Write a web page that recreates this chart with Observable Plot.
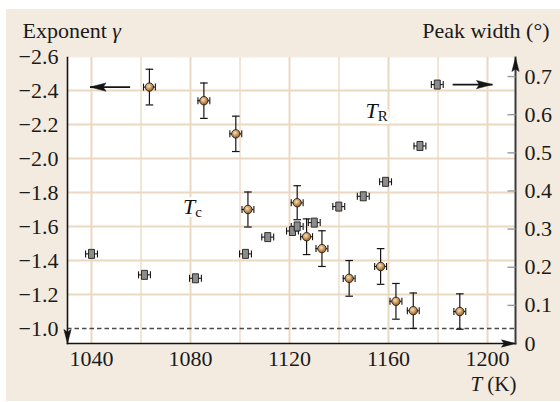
<!DOCTYPE html>
<html>
<head>
<meta charset="utf-8">
<script src="https://cdn.jsdelivr.net/npm/d3@7"></script>
<script src="https://cdn.jsdelivr.net/npm/@observablehq/plot@0.6"></script>
<style>
  html, body { margin: 0; padding: 0; background: #fff; }
  #wrap { position: relative; width: 560px; height: 402px; }
  #panel { position: absolute; left: 6px; top: 9px; right: 0; bottom: 1px; background: #f3ebe0; }
  #chart { position: absolute; left: 0; top: 0; }
</style>
</head>
<body>
<div id="wrap"><div id="panel"></div><div id="chart"></div></div>
<script>
// Critical exponent γ versus temperature (left axis)
const gammaTemp      = [1063.4, 1085.4, 1098.3, 1103.2, 1123.1, 1126.9, 1133.1, 1144.1, 1156.8, 1163.0, 1170.0, 1188.8];
const gammaValue     = [-2.42, -2.34, -2.145, -1.70, -1.74, -1.54, -1.47, -1.295, -1.365, -1.16, -1.105, -1.10];
const gammaError     = [0.105, 0.104, 0.104, 0.103, 0.10, 0.105, 0.105, 0.105, 0.105, 0.105, 0.104, 0.104];
const gammaTempError = [2.4, 2.4, 2.4, 2.4, 2.4, 2.4, 2.4, 2.4, 2.4, 2.4, 2.4, 2.4];

// Diffraction peak width versus temperature (right axis, degrees)
const widthTemp      = [1040.0, 1061.4, 1082.0, 1102.2, 1111.2, 1121.2, 1123.1, 1130.0, 1139.9, 1149.8, 1158.8, 1172.7, 1179.7];
const widthValue     = [0.235, 0.180, 0.171, 0.235, 0.279, 0.295, 0.307, 0.317, 0.359, 0.386, 0.424, 0.518, 0.679];
const widthTempError = [2.4, 2.4, 2.4, 2.4, 2.4, 2.4, 2.4, 2.4, 2.4, 2.4, 2.4, 2.4, 2.4];

// Axis ticks and gridlines
const xTicks     = [1040, 1080, 1120, 1160, 1200];
const xGrid      = [1040, 1060, 1080, 1100, 1120, 1140, 1160, 1180, 1200];
const gammaTicks = [-2.6, -2.4, -2.2, -2.0, -1.8, -1.6, -1.4, -1.2, -1.0];
const gammaGrid  = [-2.4, -2.2, -2.0, -1.8, -1.6, -1.4, -1.2];
const widthTicks = [0, 0.1, 0.2, 0.3, 0.4, 0.5, 0.6, 0.7];
const meanField  = -1.0;

// Arrows telling which axis each series belongs to
const arrowFrom = [1055.6, 1185.9];
const arrowTo   = [1039.4, 1202.0];

// Transition temperature labels
const labelText = ["Tc", "TR"];
const labelTemp = [1077.0, 1150.7];
const labelGamma = [-1.676, -2.239];

const xDomain = [1030.3, 1211.3];
const yDomain = [-0.912, -2.594];
const widthToY = d3.scaleLinear().domain([0, 0.75]).range(yDomain);

const gammaRows = gammaTemp.map((t, i) => ({t, g: gammaValue[i], e: gammaError[i], te: gammaTempError[i]}));
const widthRows = widthTemp.map((t, i) => ({t, g: widthToY(widthValue[i]), te: widthTempError[i]}));
const arrowRows = [
  {x1: arrowFrom[0], x2: arrowTo[0], y: gammaValue[0], rot: -90},
  {x1: arrowFrom[1], x2: arrowTo[1], y: widthToY(widthValue[widthValue.length - 1]), rot: 90}
];
const labelRows = labelText.map((s, i) => ({s, t: labelTemp[i], g: labelGamma[i]}));

// Custom symbols: error-bar caps, square markers and filled arrowheads
const rad = size => Math.sqrt(size / Math.PI);
const hcap = {draw(c, size) { const r = rad(size); c.moveTo(-r, 0); c.lineTo(r, 0); }};
const vcap = {draw(c, size) { const r = rad(size); c.moveTo(0, -r); c.lineTo(0, r); }};
const box = {draw(c, size) { const r = rad(size); c.rect(-0.6 * r, -0.9 * r, 1.2 * r, 1.8 * r); }};
const head = {draw(c, size) {
  const r = rad(size);
  c.moveTo(0, 0); c.lineTo(-0.26 * r, r); c.lineTo(0, 0.82 * r); c.lineTo(0.26 * r, r); c.closePath();
}};

const ink = "#141414";
const serif = "Liberation Serif, Times New Roman, serif";
const fs = 22;

const chart = Plot.plot({
  width: 560,
  height: 402,
  marginLeft: 67,
  marginRight: 45,
  marginTop: 57,
  marginBottom: 59,
  style: {fontFamily: serif, fontSize: fs + "px", background: "transparent", color: "#1a1a1a"},
  x: {domain: xDomain},
  y: {domain: yDomain},
  marks: [
    Plot.frame({fill: "white", stroke: null}),
    // gridlines
    Plot.ruleX(xGrid, {stroke: "#ebd8c1", strokeWidth: d => xTicks.includes(d) ? 2 : 1.3}),
    Plot.ruleY(gammaGrid, {stroke: "#ebd8c1", strokeWidth: 2}),
    Plot.ruleY([meanField], {stroke: "#4a4a4a", strokeWidth: 1.6, strokeDasharray: "4.5,3"}),
    // axis lines
    Plot.frame({anchor: "left", stroke: ink, strokeWidth: 1.6}),
    Plot.frame({anchor: "bottom", stroke: ink, strokeWidth: 1.6}),
    Plot.frame({anchor: "right", stroke: "#3a3a3a", strokeWidth: 2}),
    Plot.dot([0], {frameAnchor: "top-right", symbol: head, r: 14, fill: ink, stroke: ink, strokeWidth: 0.5}),
    Plot.dot([0], {frameAnchor: "bottom-left", symbol: head, r: 14, rotate: 180, fill: ink, stroke: ink, strokeWidth: 0.5}),
    Plot.dot([0], {frameAnchor: "bottom-right", symbol: head, r: 14, rotate: 90, fill: ink, stroke: ink, strokeWidth: 0.5}),
    // right-axis tick marks
    Plot.dot(widthTicks.slice(1), {y: d => widthToY(d), frameAnchor: "right", dx: -4, symbol: hcap, r: 4, fill: "none", stroke: "#9a9a9a", strokeWidth: 1.4}),
    // peak width: squares with temperature error bars
    Plot.ruleY(widthRows, {y: "g", x1: d => d.t - d.te, x2: d => d.t + d.te, stroke: ink, strokeWidth: 1.1}),
    Plot.dot(widthRows, {x: d => d.t - d.te, y: "g", symbol: vcap, r: 3.5, fill: "none", stroke: ink, strokeWidth: 1.1}),
    Plot.dot(widthRows, {x: d => d.t + d.te, y: "g", symbol: vcap, r: 3.5, fill: "none", stroke: ink, strokeWidth: 1.1}),
    Plot.dot(widthRows, {x: "t", y: "g", symbol: box, r: 5, fill: "#8c8c8c", stroke: "#1e1e1e", strokeWidth: 0.9}),
    // exponent γ: shaded balls with error bars
    Plot.ruleX(gammaRows, {x: "t", y1: d => d.g - d.e, y2: d => d.g + d.e, stroke: ink, strokeWidth: 1.2}),
    Plot.dot(gammaRows, {x: "t", y: d => d.g - d.e, symbol: hcap, r: 3.8, fill: "none", stroke: ink, strokeWidth: 1.2}),
    Plot.dot(gammaRows, {x: "t", y: d => d.g + d.e, symbol: hcap, r: 3.8, fill: "none", stroke: ink, strokeWidth: 1.2}),
    Plot.ruleY(gammaRows, {y: "g", x1: d => d.t - d.te, x2: d => d.t + d.te, stroke: ink, strokeWidth: 1.1}),
    Plot.dot(gammaRows, {x: d => d.t - d.te, y: "g", symbol: vcap, r: 3.5, fill: "none", stroke: ink, strokeWidth: 1.1}),
    Plot.dot(gammaRows, {x: d => d.t + d.te, y: "g", symbol: vcap, r: 3.5, fill: "none", stroke: ink, strokeWidth: 1.1}),
    Plot.dot(gammaRows, {x: "t", y: "g", r: 4.2, fill: "url(#ball)", stroke: "#2a1c0e", strokeWidth: 0.9}),
    // axis arrows
    Plot.link(arrowRows, {x1: "x1", x2: "x2", y1: "y", y2: "y", stroke: ink, strokeWidth: 1.6}),
    Plot.dot(arrowRows, {x: "x2", y: "y", rotate: "rot", symbol: head, r: 16, fill: ink, stroke: ink, strokeWidth: 0.5}),
    // transition labels
    Plot.text(labelRows, {x: "t", y: "g", text: "s", textAnchor: "start", lineAnchor: "bottom", fontSize: fs, fill: "#111", stroke: "white", strokeWidth: 6}),
    // axes
    Plot.axisY({anchor: "left", ticks: gammaTicks, tickSize: 0, tickPadding: 9, tickFormat: d3.format(".1f"), label: null}),
    Plot.axisY({anchor: "right", ticks: widthTicks.map(widthToY), tickSize: 0, tickPadding: 9,
      tickFormat: d => String(+widthToY.invert(d).toFixed(1)), label: null}),
    Plot.axisX({ticks: xTicks, tickSize: 0, tickPadding: 7, tickFormat: d3.format("d"), label: null}),
    // axis titles
    Plot.text(["Exponent γ"], {frameAnchor: "top-left", dx: -45, dy: -20, textAnchor: "start", lineAnchor: "bottom", fontSize: fs}),
    Plot.text(["Peak width (°)"], {frameAnchor: "top-right", dx: 34, dy: -20, textAnchor: "end", lineAnchor: "bottom", fontSize: fs}),
    Plot.text(["T (K)"], {frameAnchor: "bottom-right", dx: 1, dy: 47, textAnchor: "end", lineAnchor: "bottom", fontSize: 21})
  ]
});

// sphere shading for the γ markers
const defs = d3.select(chart).insert("defs", ":first-child");
const grad = defs.append("radialGradient").attr("id", "ball").attr("cx", "42%").attr("cy", "38%").attr("r", "62%");
grad.append("stop").attr("offset", "0%").attr("stop-color", "#f6e2c0");
grad.append("stop").attr("offset", "55%").attr("stop-color", "#c9975d");
grad.append("stop").attr("offset", "100%").attr("stop-color", "#8a5a28");

// italic symbols and subscripts inside text labels
function styleText(match, parts) {
  d3.select(chart).selectAll("text").filter(function() { return this.textContent === match; }).each(function() {
    const t = d3.select(this);
    t.text(null);
    for (const p of parts) {
      const s = t.append("tspan").text(p.text);
      if (p.italic) s.attr("font-style", "italic");
      if (p.sub) s.attr("font-size", "15px").attr("dy", "0.22em");
    }
  });
}
styleText("Exponent γ", [{text: "Exponent "}, {text: "γ", italic: true}]);
styleText("T (K)", [{text: "T", italic: true}, {text: " (K)"}]);
styleText("Tc", [{text: "T", italic: true}, {text: "c", sub: true}]);
styleText("TR", [{text: "T", italic: true}, {text: "R", sub: true}]);

document.getElementById("chart").appendChild(chart);
</script>
</body>
</html>
